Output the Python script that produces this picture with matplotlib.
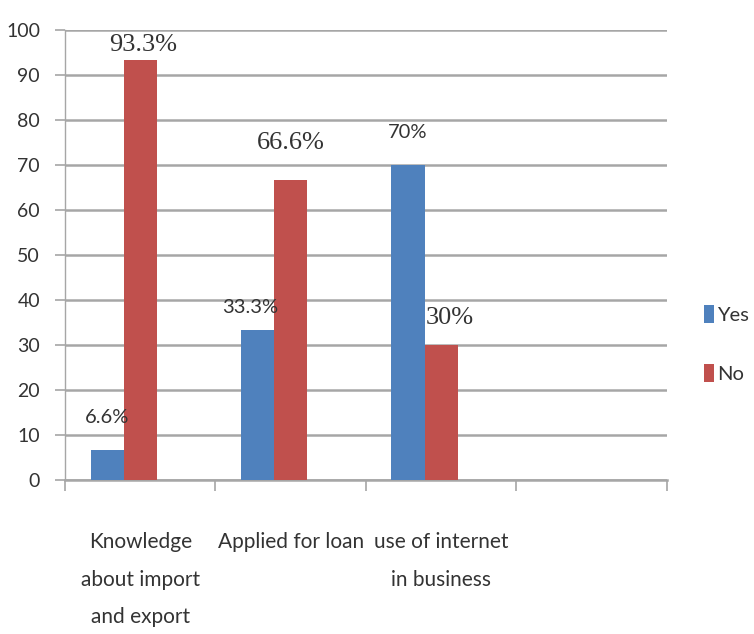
import matplotlib
matplotlib.use("Agg")
import matplotlib.pyplot as plt
import numpy as np
from matplotlib.font_manager import FontProperties

categories = ["Knowledge\nabout import\nand export", "Applied for loan", "use of internet\nin business", ""]
yes_values = [6.6, 33.3, 70]
no_values = [93.3, 66.6, 30]
yes_labels = ["6.6%", "33.3%", "70%"]
no_labels = ["93.3%", "66.6%", "30%"]
y_ticks = [0, 10, 20, 30, 40, 50, 60, 70, 80, 90, 100]

# hand-placed label offsets (x in category units, y in value units)
yes_label_dx = [0.0, -0.05, 0.0]
yes_label_dy = [7.2, 5.1, 7.3]
no_label_dx = [0.02, 0.0, 0.06]
no_label_dy = [3.4, 8.3, 6.0]

BLUE = "#4F81BD"
RED = "#C0504D"
GRID = "#A6A6A6"
TEXT = "#333333"
sans = ["Lato", "DejaVu Sans"]
serif = ["Liberation Serif", "DejaVu Serif"]

fig = plt.figure(figsize=(7.54, 6.34), dpi=100)
ax = fig.add_axes([0.0862, 0.2429, 0.798, 0.7098])

w = 0.22
x_yes = np.arange(len(yes_values)) - w
x_no = np.arange(len(no_values)) + 0.0
b_yes = ax.bar(x_yes, yes_values, width=w, color=BLUE, label="Yes", zorder=3)
b_no = ax.bar(x_no, no_values, width=w, color=RED, label="No", zorder=3)

ax.set_xlim(-0.5, len(categories) - 0.5)
ax.set_ylim(0, 100)
ax.set_yticks(y_ticks)
ax.set_yticklabels([str(t) for t in y_ticks], family=sans, fontsize=14, color=TEXT)
ax.yaxis.grid(True, color=GRID, linewidth=1.8, zorder=0)
ax.set_axisbelow(True)

# category boundary ticks on the x axis
ax.set_xticks(np.arange(len(categories) + 1) - 0.5)
ax.set_xticklabels([])
ax.tick_params(axis="x", length=8, color=GRID, width=1.2, direction="out")
ax.tick_params(axis="y", length=7, color=GRID, width=1.2, pad=11)
for i, c in enumerate(categories):
    ax.text(i, -11.6, c, ha="center", va="top", family=sans, fontsize=15,
            color=TEXT, linespacing=2.1)

for side in ["top", "right"]:
    ax.spines[side].set_visible(False)
ax.spines["left"].set_color(GRID)
ax.spines["left"].set_linewidth(1.0)
ax.spines["bottom"].set_color(GRID)
ax.spines["bottom"].set_linewidth(1.8)

# value labels
for xi, v, lab, dx, dy in zip(x_yes, yes_values, yes_labels, yes_label_dx, yes_label_dy):
    ax.text(xi + dx, v + dy, lab, ha="center", va="center", family=sans,
            fontsize=14.5, color=TEXT, clip_on=False)
for xi, v, lab, dx, dy in zip(x_no, no_values, no_labels, no_label_dx, no_label_dy):
    ax.text(xi + dx, v + dy, lab, ha="center", va="center", family=serif,
            fontsize=19, color=TEXT, clip_on=False)

leg = fig.legend(handles=[b_yes, b_no], labels=["Yes", "No"], loc="center left",
                 bbox_to_anchor=(0.934, 0.457), frameon=False,
                 prop=FontProperties(family=sans, size=14.5),
                 handlelength=0.5, handleheight=1.0, handletextpad=0.15,
                 labelspacing=2.0, borderpad=0, borderaxespad=0)
for t in leg.get_texts():
    t.set_color(TEXT)

fig.savefig("out.png", dpi=100, facecolor="white")
